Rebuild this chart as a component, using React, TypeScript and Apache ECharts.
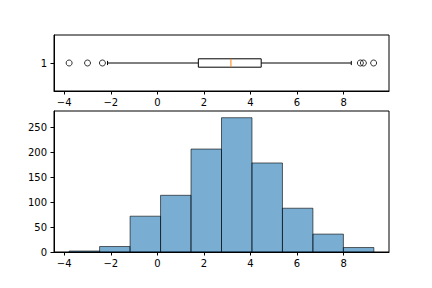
import React, { useEffect, useRef } from "react";
import * as echarts from "echarts";

// Sample summary: histogram bins and boxplot statistics
const binEdges = [-3.79, -2.481, -1.172, 0.137, 1.446, 2.755, 4.064, 5.373, 6.682, 7.991, 9.3];
const binCounts = [2, 11, 72, 114, 207, 270, 179, 88, 36, 9];
const boxStats = [-2.14, 1.76, 3.16, 4.46, 8.33]; // low whisker, q1, median, q3, high whisker
const outliers = [-3.79, -3.0, -2.36, 8.72, 8.85, 9.29];
const xTicks = [-4, -2, 0, 2, 4, 6, 8];
const yTicks = [0, 50, 100, 150, 200, 250];
const boxCategory = ["1"];

const FONT = "DejaVu Sans";
const fmt = (v: number | string) => String(v).replace("-", "\u2212");

export default function App() {
  const ref = useRef<HTMLDivElement>(null);

  useEffect(() => {
    if (!ref.current) return;
    const chart = echarts.init(ref.current, undefined, { renderer: "svg" });
    const xMin = -4.44;
    const xMax = 9.95;
    const yMax = Math.max(...binCounts) * 1.05;

    const axisLine = { show: true, onZero: false, lineStyle: { color: "#000", width: 1 } };
    const axisTick = { show: true, inside: false, length: 3.5, lineStyle: { color: "#000" } };
    const labelStyle = { color: "#000", fontFamily: FONT, fontSize: 10 };

    const xAxisCommon = (gridIndex: number) => ({
      type: "value",
      gridIndex,
      min: xMin,
      max: xMax,
      splitLine: { show: false },
      axisLine,
      axisTick: { ...axisTick, customValues: xTicks },
      axisLabel: { ...labelStyle, margin: 6, customValues: xTicks, formatter: fmt },
    });

    const histData = binCounts.map((c, i) => [binEdges[i], binEdges[i + 1], c]);

    chart.setOption({
      animation: false,
      backgroundColor: "#fff",
      grid: [
        { left: 54, right: 43, top: 35, height: 56, show: true, borderColor: "#000", borderWidth: 1, backgroundColor: "transparent" },
        { left: 54, right: 43, top: 111, height: 141, show: true, borderColor: "#000", borderWidth: 1, backgroundColor: "transparent" },
      ],
      xAxis: [xAxisCommon(0), xAxisCommon(1)],
      yAxis: [
        {
          type: "category",
          gridIndex: 0,
          data: boxCategory,
          axisLine,
          axisTick: { ...axisTick, alignWithLabel: true },
          axisLabel: { ...labelStyle, margin: 7 },
          splitLine: { show: false },
        },
        {
          type: "value",
          gridIndex: 1,
          min: 0,
          max: yMax,
          splitLine: { show: false },
          axisLine,
          axisTick: { ...axisTick, customValues: yTicks },
          axisLabel: { ...labelStyle, margin: 7, customValues: yTicks, formatter: fmt },
        },
      ],
      series: [
        {
          type: "custom",
          xAxisIndex: 0,
          yAxisIndex: 0,
          data: [[0, ...boxStats]],
          renderItem: (params: any, api: any) => {
            const lo = api.coord([api.value(1), 0]);
            const q1 = api.coord([api.value(2), 0]);
            const med = api.coord([api.value(3), 0]);
            const q3 = api.coord([api.value(4), 0]);
            const hi = api.coord([api.value(5), 0]);
            const band = api.size([0, 1])[1];
            const y = lo[1];
            const h = band * 0.15;
            const c = band * 0.075;
            const stroke = { stroke: "#000", lineWidth: 1, fill: "none" };
            return {
              type: "group",
              children: [
                { type: "line", shape: { x1: lo[0], y1: y, x2: q1[0], y2: y }, style: stroke },
                { type: "line", shape: { x1: q3[0], y1: y, x2: hi[0], y2: y }, style: stroke },
                { type: "line", shape: { x1: lo[0], y1: y - c / 2, x2: lo[0], y2: y + c / 2 }, style: stroke },
                { type: "line", shape: { x1: hi[0], y1: y - c / 2, x2: hi[0], y2: y + c / 2 }, style: stroke },
                { type: "rect", shape: { x: q1[0], y: y - h / 2, width: q3[0] - q1[0], height: h }, style: { stroke: "#000", lineWidth: 1, fill: "#fff" } },
                { type: "line", shape: { x1: med[0], y1: y - h / 2, x2: med[0], y2: y + h / 2 }, style: { stroke: "#ff7f0e", lineWidth: 1 } },
              ],
            };
          },
        },
        {
          type: "scatter",
          xAxisIndex: 0,
          yAxisIndex: 0,
          data: outliers.map((v) => [v, 0]),
          symbol: "circle",
          symbolSize: 6,
          itemStyle: { color: "rgba(0,0,0,0)", borderColor: "#000", borderWidth: 1 },
        },
        {
          type: "custom",
          xAxisIndex: 1,
          yAxisIndex: 1,
          data: histData,
          renderItem: (params: any, api: any) => {
            const p0 = api.coord([api.value(0), 0]);
            const p1 = api.coord([api.value(1), api.value(2)]);
            return {
              type: "rect",
              shape: { x: p0[0], y: p1[1], width: p1[0] - p0[0], height: p0[1] - p1[1] },
              style: { fill: "rgba(31,119,180,0.6)", stroke: "rgba(0,0,0,0.6)", lineWidth: 1 },
            };
          },
        },
      ],
    });
    return () => chart.dispose();
  }, []);

  return <div ref={ref} style={{ width: 432, height: 288, position: "absolute", left: 0, top: 0 }} />;
}
